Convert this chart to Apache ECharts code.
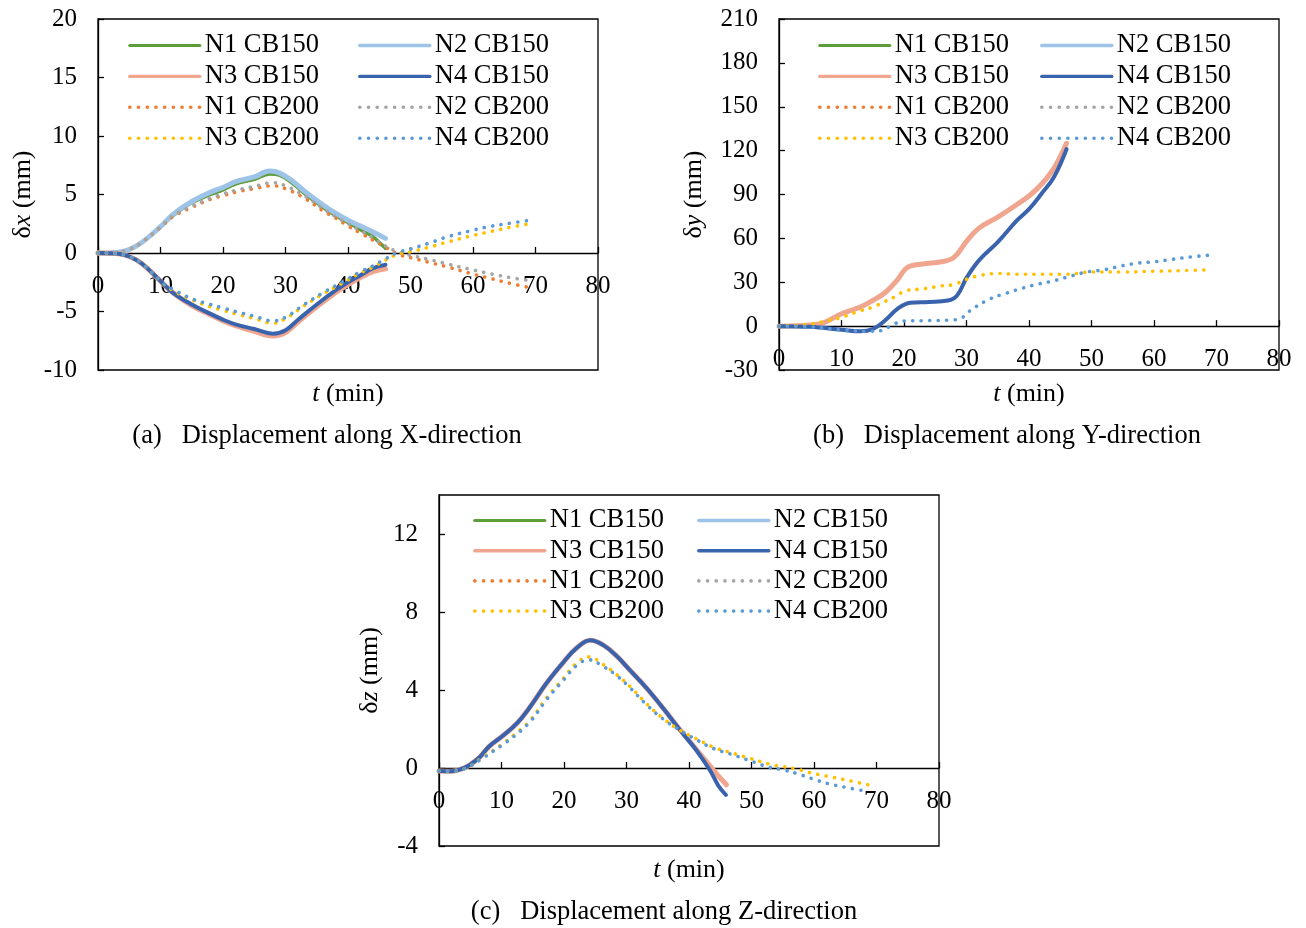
<!DOCTYPE html>
<html>
<head>
<meta charset="utf-8">
<script src="https://cdn.jsdelivr.net/npm/echarts@6/dist/echarts.min.js"></script>
<style>
html,body{margin:0;padding:0;background:#fff;}
#chart{width:1306px;height:928px;}
</style>
</head>
<body>
<div id="chart"></div>
<script>
// ---------- DATA ----------
const seriesNames = ['N1 CB150','N2 CB150','N3 CB150','N4 CB150','N1 CB200','N2 CB200','N3 CB200','N4 CB200'];
const xTicks = [0,10,20,30,40,50,60,70,80];

// Panel (a) δx
const ax_N1_CB150 = [[0,0],[3,0.05],[5,0.3],[7,0.9],[10,2.2],[12,3.2],[15,4.3],[18,5.0],[20,5.4],[22,5.9],[25,6.3],[27.5,6.75],[29,6.65],[31,6.0],[33,5.1],[36,3.9],[38,3.2],[40,2.6],[42,2.0],[44,1.4],[45,0.9],[46,0.4]];
const ax_N2_CB150 = [[0,0],[3,0.05],[5,0.3],[7,0.9],[10,2.25],[12,3.3],[15,4.4],[18,5.2],[20,5.6],[22,6.1],[25,6.5],[27.5,7.0],[29,6.85],[31,6.2],[33,5.3],[36,4.1],[38,3.4],[40,2.8],[42,2.3],[44,1.8],[46,1.25]];
const ax_N3_CB150 = [[0,0],[3,-0.05],[5,-0.3],[7,-0.9],[10,-2.4],[12,-3.4],[15,-4.5],[18,-5.3],[20,-5.8],[22,-6.2],[25,-6.7],[28,-7.1],[30,-6.8],[32,-5.9],[35,-4.6],[38,-3.4],[40,-2.7],[42,-2.1],[44,-1.6],[46,-1.35]];
const ax_N4_CB150 = [[0,0],[3,-0.05],[5,-0.3],[7,-0.9],[10,-2.4],[12,-3.4],[15,-4.4],[18,-5.2],[20,-5.7],[22,-6.1],[25,-6.5],[28,-6.9],[30,-6.6],[32,-5.7],[35,-4.4],[38,-3.2],[40,-2.5],[42,-1.9],[44,-1.3],[46,-1.0]];
const ax_N1_CB200 = [[0,0],[3,0.05],[5,0.3],[7,0.9],[10,2.2],[12,3.1],[15,3.9],[18,4.6],[20,4.9],[22,5.2],[25,5.5],[28,5.75],[30,5.5],[33,4.7],[36,3.6],[38,3.0],[40,2.3],[42,1.7],[44,1.1],[46,0.5],[48,-0.1],[50,-0.4],[53,-0.8],[56,-1.2],[60,-1.8],[63,-2.2],[66,-2.6],[69,-2.95]];
const ax_N2_CB200 = [[0,0],[3,0.05],[5,0.3],[7,0.9],[10,2.25],[12,3.2],[15,4.0],[18,4.7],[20,5.05],[22,5.35],[25,5.7],[28,6.0],[30,5.75],[33,4.9],[36,3.8],[38,3.1],[40,2.5],[42,1.9],[44,1.3],[46,0.6],[48,0.1],[50,-0.2],[53,-0.55],[56,-0.95],[60,-1.45],[63,-1.8],[66,-2.1],[69,-2.35]];
const ax_N3_CB200 = [[0,0],[3,-0.05],[5,-0.3],[7,-0.9],[10,-2.4],[12,-3.2],[15,-4.0],[18,-4.6],[20,-4.9],[22,-5.2],[25,-5.6],[28,-6.0],[30,-5.6],[33,-4.5],[36,-3.5],[38,-2.9],[40,-2.3],[42,-1.7],[44,-1.2],[46,-0.6],[48,-0.1],[50,0.1],[53,0.5],[56,0.95],[60,1.5],[63,1.85],[66,2.2],[69,2.5]];
const ax_N4_CB200 = [[0,0],[3,-0.05],[5,-0.3],[7,-0.9],[10,-2.4],[12,-3.1],[15,-3.9],[18,-4.4],[20,-4.7],[22,-5.0],[25,-5.4],[28,-5.8],[30,-5.5],[33,-4.4],[36,-3.4],[38,-2.8],[40,-2.2],[42,-1.6],[44,-1.1],[46,-0.5],[48,0.05],[50,0.35],[53,0.85],[56,1.4],[60,1.95],[63,2.3],[66,2.55],[69,2.8]];

// Panel (b) δy
const by_N1_CB150 = [];
const by_N2_CB150 = [];
const by_N3_CB150 = [[0,0],[3,0.2],[5,0.8],[7,2],[10,8.5],[13,13],[15,17.5],[17,23],[19,32],[20.5,40],[23,42.5],[26,44],[28,47],[30,58],[32,67],[35,74.5],[38,83],[40,89],[42,97],[44,108],[46,125]];
const by_N4_CB150 = [[0,0],[5,-0.5],[10,-2.5],[13,-3.5],[15,-2],[17,4],[19,12],[21,16],[24,16.5],[27,17.5],[28.5,21],[30,33],[32,45],[35,57.5],[38,72],[40,80],[42,90.5],[44,102],[46,121]];
const by_N1_CB200 = [];
const by_N2_CB200 = [];
const by_N3_CB200 = [[0,0],[5,1.5],[8,4],[10,6],[13,10.5],[15,13],[17,17],[19,21],[20,24],[23,25.5],[26,27.5],[28,28.5],[30,32],[32,34.5],[35,36],[38,35.5],[42,35.5],[46,35.5],[50,37],[55,37],[60,37.5],[65,38],[69,38.5]];
const by_N4_CB200 = [[0,0],[5,-0.5],[10,-2.5],[14,-3.5],[16.5,-3],[18,0.5],[20,3.5],[24,3.8],[28,4.3],[29.2,5.5],[30.3,9.6],[31.4,13],[33.8,18.7],[36,22],[38.6,25.5],[41.2,28.5],[44,31],[46.5,34],[49.2,37],[52,38.5],[54.6,41],[57.2,43],[60,44],[62.6,45.5],[65.2,47],[68.8,48.5]];

// Panel (c) δz
const cz_N1_CB150 = [];
const cz_N2_CB150 = [];
const cz_N3_CB150 = [[0,-0.15],[2,-0.17],[4,0],[5,0.17],[6.5,0.55],[8,1.1],[10,1.6],[12.5,2.3],[14.5,3.1],[17.2,4.35],[20,5.46],[22,6.15],[24.2,6.55],[26.3,6.3],[28.4,5.75],[30.6,5.0],[33.2,4.1],[35.9,3.05],[38.6,1.95],[41.2,0.95],[43.4,0.1],[44.7,-0.4],[46,-0.86]];
const cz_N4_CB150 = [[0,-0.15],[2,-0.17],[4,0],[5,0.17],[6.5,0.55],[8,1.1],[10,1.6],[12.5,2.3],[14.5,3.1],[17.2,4.35],[20,5.46],[22,6.15],[24.2,6.55],[26.3,6.3],[28.4,5.75],[30.6,5.0],[33.2,4.1],[35.9,3.05],[38.6,1.93],[41.2,0.9],[43.4,-0.14],[44.7,-0.91],[45.9,-1.38]];
const cz_N1_CB200 = [];
const cz_N2_CB200 = [];
const cz_N3_CB200 = [[0,-0.15],[2,-0.17],[4,-0.05],[5,0.1],[7,0.55],[10,1.2],[12,1.7],[14.6,2.45],[17.2,3.6],[19.9,4.6],[22,5.38],[24,5.7],[26.3,5.3],[28.4,4.8],[30.6,4.17],[33.2,3.3],[35.9,2.53],[38.6,1.93],[41.2,1.5],[43.9,1.07],[46.6,0.8],[49.7,0.5],[52.9,0.2],[55.1,0.07],[57.2,-0.05],[59.9,-0.28],[62.6,-0.45],[65.2,-0.62],[69.4,-0.91]];
const cz_N4_CB200 = [[0,-0.15],[2,-0.17],[4,-0.05],[5,0.1],[7,0.5],[10,1.15],[12,1.62],[14.6,2.38],[17.2,3.5],[19.9,4.5],[22,5.25],[24,5.55],[26.3,5.2],[28.4,4.75],[30.6,4.1],[33.2,3.25],[35.9,2.5],[38.6,1.93],[41.2,1.45],[43.9,1.0],[46.6,0.72],[49.7,0.38],[52.9,0.03],[55.1,-0.1],[57.2,-0.28],[59.9,-0.57],[62.6,-0.83],[65.2,-1.0],[68,-1.17]];

const yRangeA = {min:-10, max:20, interval:5};
const yRangeB = {min:-30, max:210, interval:30};
const yRangeC = {min:-4, max:14, interval:4};

const captions = ['(a)   Displacement along X-direction','(b)   Displacement along Y-direction','(c)   Displacement along Z-direction'];

// ---------- STYLE ----------
const FONT = '"Liberation Serif","Times New Roman",serif';
const FS = 25;
const LFS = 26.5;
const styles = {
  'N1 CB150': {color:'#5E9E3A', width:3.5, lw:3.2, dotted:false},
  'N2 CB150': {color:'#9DC3E6', width:5, lw:3.4, dotted:false},
  'N3 CB150': {color:'#F0A58E', width:5, lw:3.4, dotted:false},
  'N4 CB150': {color:'#3A63AE', width:4, lw:3.4, dotted:false},
  'N1 CB200': {color:'#ED7D31', width:3.6, lw:3.6, dotted:true},
  'N2 CB200': {color:'#A5A5A5', width:3.6, lw:3.6, dotted:true},
  'N3 CB200': {color:'#FFC000', width:3.6, lw:3.6, dotted:true},
  'N4 CB200': {color:'#5B9BD5', width:3.6, lw:3.6, dotted:true}
};
const panelData = [
  [ax_N1_CB150,ax_N2_CB150,ax_N3_CB150,ax_N4_CB150,ax_N1_CB200,ax_N2_CB200,ax_N3_CB200,ax_N4_CB200],
  [by_N1_CB150,by_N2_CB150,by_N3_CB150,by_N4_CB150,by_N1_CB200,by_N2_CB200,by_N3_CB200,by_N4_CB200],
  [cz_N1_CB150,cz_N2_CB150,cz_N3_CB150,cz_N4_CB150,cz_N1_CB200,cz_N2_CB200,cz_N3_CB200,cz_N4_CB200]
];
const grids = [
  {left:98, top:19, width:500, height:351},
  {left:779, top:19, width:500, height:351},
  {left:439, top:495, width:500, height:351}
];
const yRanges = [yRangeA, yRangeB, yRangeC];
const yNames = ['x','y','z'];
const yNameGaps = [62, 72, 56];
const xNameGaps = [128, 55, 89];
const captionPos = [[327,436],[1007,436],[664,912]];
const legendPos = [
  [[128,32],[358,32]],
  [[818,32],[1040,32]],
  [[473,507],[697,507]]
];
const legendGaps = [3.9, 3.9, 3.2];
// x axis is drawn through y = 0: offset of the zero line from the plot bottom
const xAxisOffsets = yRanges.map((r,i) => -grids[i].height * (0 - r.min) / (r.max - r.min));

const col1 = ['N1 CB150','N3 CB150','N1 CB200','N3 CB200'];
const col2 = ['N2 CB150','N4 CB150','N2 CB200','N4 CB200'];

const chart = echarts.init(document.getElementById('chart'), null, {renderer:'canvas'});

const richName = {
  g:{fontFamily:FONT, fontSize:26, color:'#000'},
  i:{fontFamily:FONT, fontSize:26, fontStyle:'italic', color:'#000'}
};

function legendItem(nm){
  const st = styles[nm];
  return {
    name:nm,
    itemStyle:{opacity:0, color:'transparent', borderWidth:0},
    lineStyle: st.dotted
      ? {color:st.color, width:st.lw, type:[0.1, 8.6], cap:'round', opacity:1}
      : {color:st.color, width:st.lw, type:'solid', cap:'round', opacity:1}
  };
}

const option = {
  animation:false,
  backgroundColor:'#fff',
  textStyle:{fontFamily:FONT, color:'#000'},
  grid: grids.map(g => Object.assign({show:true, borderColor:'#000', borderWidth:1.3, backgroundColor:'transparent', containLabel:false}, g)),
  xAxis: grids.map((g,i) => ({
    type:'value', gridIndex:i, min:xTicks[0], max:xTicks[xTicks.length-1], interval:10,
    position:'bottom', offset:xAxisOffsets[i],
    name:'{i|t}{g| (min)}', nameLocation:'middle', nameGap:xNameGaps[i],
    nameTextStyle:{rich:richName},
    axisLine:{onZero:false, lineStyle:{color:'#000', width:1.3}},
    axisTick:{inside:true, length:6, lineStyle:{color:'#000', width:1.3}},
    axisLabel:{color:'#000', fontFamily:FONT, fontSize:FS, margin:21},
    splitLine:{show:false}
  })),
  yAxis: grids.map((g,i) => ({
    type:'value', gridIndex:i, min:yRanges[i].min, max:yRanges[i].max, interval:yRanges[i].interval,
    name:'{g|δ}{i|' + yNames[i] + '}{g| (mm)}', nameLocation:'middle', nameGap:yNameGaps[i], nameRotate:90,
    nameTextStyle:{rich:richName},
    axisLine:{show:true, onZero:false, lineStyle:{color:'#000', width:1.3}},
    axisTick:{show:true, inside:true, length:6, lineStyle:{color:'#000', width:1.3}},
    axisLabel:{color:'#000', fontFamily:FONT, fontSize:FS, margin:21, showMaxLabel: i===2 ? false : true},
    splitLine:{show:false}
  })),
  legend: [],
  series: [],
  graphic: captions.map((c,i) => ({
    type:'text',
    x:captionPos[i][0], y:captionPos[i][1],
    style:{text:c, font:LFS + 'px ' + FONT, fill:'#000', textAlign:'center', textVerticalAlign:'middle'}
  }))
};

legendPos.forEach((cols,p) => {
  [col1,col2].forEach((names,k) => {
    option.legend.push({
      orient:'vertical', left:cols[k][0], top:cols[k][1],
      itemWidth:70, itemHeight:14, itemGap:legendGaps[p], padding:0,
      selectedMode:false,
      data:names.map(legendItem),
      textStyle:{fontFamily:FONT, fontSize:LFS, color:'#000', lineHeight:25}
    });
  });
});

panelData.forEach((arrs,p) => {
  arrs.forEach((d,k) => {
    const nm = seriesNames[k];
    const st = styles[nm];
    option.series.push({
      type:'line', name:nm, xAxisIndex:p, yAxisIndex:p,
      data:d, symbol:'none', showSymbol:false,
      smooth:0.4,
      lineStyle: st.dotted
        ? {color:st.color, width:st.width, type:[0.1, 8.4], cap:'round'}
        : {color:st.color, width:st.width, cap:'round', join:'round'},
      itemStyle:{color:st.color},
      emphasis:{disabled:true},
      z: st.dotted ? 3 : 2
    });
  });
});

chart.setOption(option);
</script>
</body>
</html>
